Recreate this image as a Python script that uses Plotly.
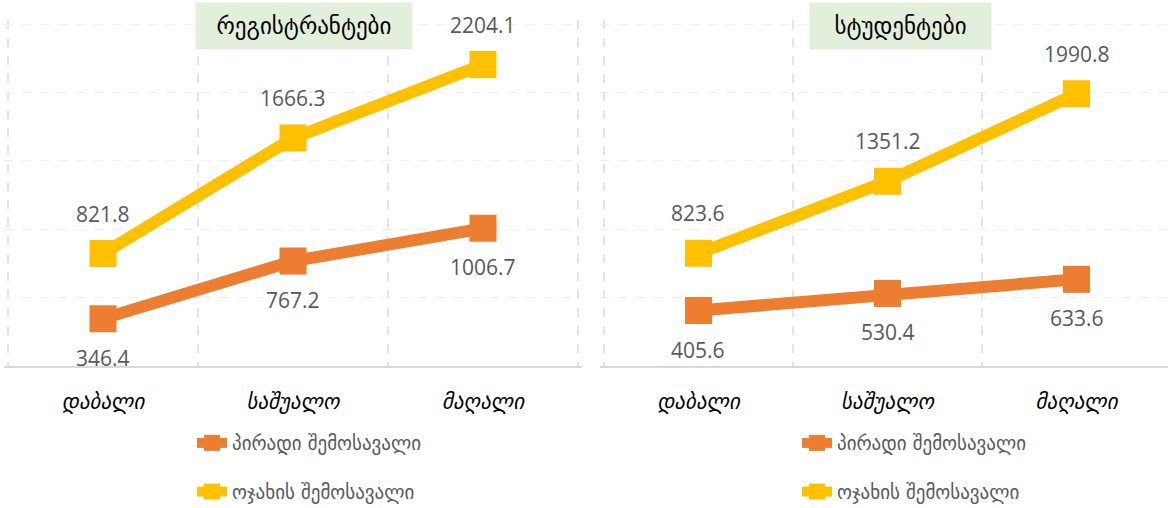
import plotly.graph_objects as go

categories = ["დაბალი", "საშუალო", "მაღალი"]
series_names = ["პირადი შემოსავალი", "ოჯახის შემოსავალი"]
panel_titles = ["რეგისტრანტები", "სტუდენტები"]
reg_personal = [346.4, 767.2, 1006.7]
reg_family = [821.8, 1666.3, 2204.1]
stu_personal = [405.6, 530.4, 633.6]
stu_family = [823.6, 1351.2, 1990.8]

colors = ["#ED7D31", "#FFC000"]
W, H = 1168, 508
xpos = list(range(len(categories)))

fig = go.Figure()

panels = [
    ("x", "y", "legend", [reg_personal, reg_family]),
    ("x2", "y2", "legend2", [stu_personal, stu_family]),
]

annotations = []
for xa, ya, lg, data in panels:
    for i, (name, vals) in enumerate(zip(series_names, data)):
        fig.add_trace(go.Scatter(
            x=xpos, y=vals, name=name, mode="lines+markers",
            line=dict(color=colors[i], width=12),
            marker=dict(symbol="square", size=27, color=colors[i]),
            xaxis=xa, yaxis=ya, legend=lg, legendgroup=f"{lg}{i}",
            hoverinfo="skip",
        ))
        shift = 40 if i == 1 else -39
        for xv, v in zip(xpos, vals):
            annotations.append(dict(
                x=xv, y=v, xref=xa, yref=ya, text=f"{v:.1f}",
                showarrow=False, yshift=shift,
                font=dict(family="Open Sans", size=21, color="#595959"),
            ))

# title boxes
for title, cx, w in [(panel_titles[0], 304, 214), (panel_titles[1], 900, 179)]:
    annotations.append(dict(
        x=cx / W, y=1 - 26 / H, xref="paper", yref="paper",
        text=title, showarrow=False, xanchor="center", yanchor="middle",
        bgcolor="#E2EFDA", width=w, height=44,
        font=dict(family="DejaVu Sans", size=23, color="black"),
    ))

ydom = [(H - 366) / H, (H - 20) / H]
xcommon = dict(
    tickmode="array", tickvals=xpos, ticktext=categories,
    showgrid=False, zeroline=False, automargin=False,
    showline=True, linecolor="#D9D9D9", linewidth=1.5,
    ticks="", ticklabelstandoff=16,
    tickfont=dict(family="DejaVu Sans", size=21, color="black", style="italic"),
    minor=dict(tickmode="array", tickvals=[-0.5, 0.5, 1.5, 2.5], showgrid=True,
               gridcolor="#E4E4E4", griddash="dash", gridwidth=1.5, ticks=""),
    fixedrange=True,
)
ycommon = dict(
    range=[0, 2530], dtick=500, showticklabels=False, showgrid=True,
    gridcolor="#EEEEEE", griddash="dash", gridwidth=1, zeroline=False,
    domain=ydom, fixedrange=True, automargin=False,
)

legcommon = dict(
    orientation="v", yanchor="bottom", xanchor="left", y=-0.006,
    font=dict(family="DejaVu Sans", size=19, color="#595959"),
    bgcolor="rgba(0,0,0,0)", tracegroupgap=21,
)

fig.update_layout(
    width=W, height=H, margin=dict(l=0, r=0, t=0, b=0, autoexpand=False),
    paper_bgcolor="white", plot_bgcolor="white",
    xaxis=dict(**xcommon, domain=[4.2 / W, 581.8 / W], range=[-0.52, 2.52]),
    xaxis2=dict(**xcommon, domain=[600.2 / W, 1], range=[-0.52, 2.484]),
    yaxis=dict(**ycommon, anchor="x"),
    yaxis2=dict(**ycommon, anchor="x2"),
    legend=dict(**legcommon, x=192 / W),
    legend2=dict(**legcommon, x=797 / W),
    annotations=annotations,
    showlegend=True,
)

fig.write_html("out.html", config={"displayModeBar": False},
               post_script="document.body.style.margin='0';document.body.style.overflow='hidden';")
